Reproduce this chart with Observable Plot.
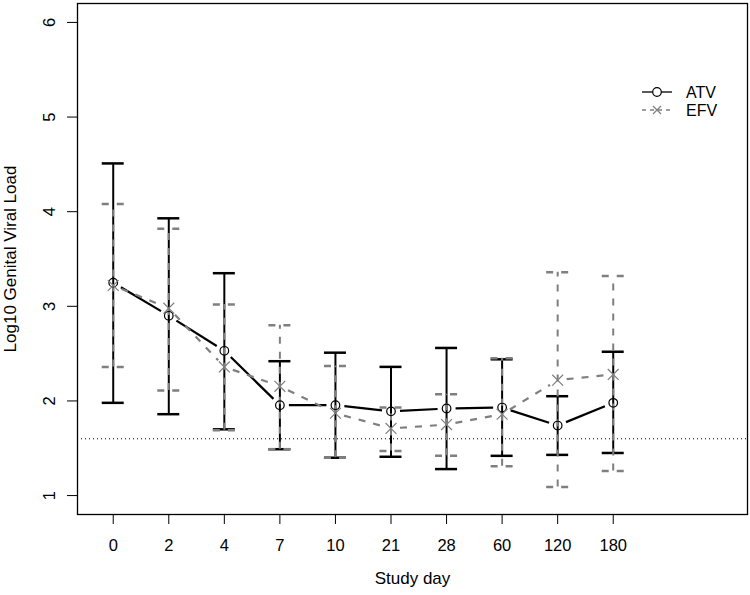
<!DOCTYPE html>
<html>
<head>
<meta charset="utf-8">
<script src="https://cdn.jsdelivr.net/npm/d3@7"></script>
<script src="https://cdn.jsdelivr.net/npm/@observablehq/plot@0.6"></script>
<style>
  html, body { margin: 0; padding: 0; background: #fff; }
  #wrap { position: relative; width: 750px; height: 595px; font-family: "Liberation Sans", Arial, sans-serif; }
  #legend { position: absolute; left: 0; top: 0; pointer-events: none; }
</style>
</head>
<body>
<div id="wrap"></div>
<script>
// ---- data ----
const days      = ["0", "2", "4", "7", "10", "21", "28", "60", "120", "180"];
const atvMean   = [3.25, 2.90, 2.53, 1.955, 1.955, 1.89, 1.92, 1.93, 1.74, 1.98];
const atvLower  = [1.98, 1.86, 1.70, 1.49, 1.40, 1.41, 1.28, 1.42, 1.43, 1.45];
const atvUpper  = [4.51, 3.93, 3.35, 2.42, 2.51, 2.36, 2.56, 2.44, 2.05, 2.52];
const efvMean   = [3.22, 2.98, 2.36, 2.155, 1.87, 1.71, 1.75, 1.86, 2.22, 2.28];
const efvLower  = [2.36, 2.11, 1.69, 1.49, 1.40, 1.47, 1.42, 1.31, 1.09, 1.26];
const efvUpper  = [4.08, 3.82, 3.02, 2.80, 2.37, 1.93, 2.07, 2.45, 3.36, 3.32];
const detectionLimit = 1.60;
const yTicks = [1, 2, 3, 4, 5, 6];
const seriesNames = ["ATV", "EFV"];

// ---- build tables ----
const rows = days.map((d, i) => ({
  idx: i + 1, day: d,
  atv: atvMean[i], atvLo: atvLower[i], atvHi: atvUpper[i],
  efv: efvMean[i], efvLo: efvLower[i], efvHi: efvUpper[i]
}));
const segs = rows.slice(1).map((r, k) => ({a: rows[k], b: r}));

const GRAY = "#7f7f7f";
const DASH = "7,8";
const CAP = -11;

const chart = Plot.plot({
  width: 750,
  height: 595,
  marginLeft: 77,
  marginRight: 3,
  marginTop: 3,
  marginBottom: 81,
  style: {fontFamily: "'Liberation Sans', Arial, sans-serif", fontSize: "16.5px", background: "#fff", color: "#000"},
  x: {type: "linear", domain: [0.357, 12.417], axis: null},
  y: {domain: [0.8, 6.2], axis: null},
  marks: [
    // detection limit
    Plot.ruleY([detectionLimit], {stroke: "#000", strokeWidth: 1, strokeDasharray: "1,3"}),

    // ATV error bars
    Plot.ruleX(rows, {x: "idx", y1: "atvLo", y2: "atvHi", stroke: "#000", strokeWidth: 2}),
    Plot.ruleY(rows, {y: "atvHi", x1: "idx", x2: "idx", insetLeft: CAP, insetRight: CAP, stroke: "#000", strokeWidth: 2.5}),
    Plot.ruleY(rows, {y: "atvLo", x1: "idx", x2: "idx", insetLeft: CAP, insetRight: CAP, stroke: "#000", strokeWidth: 2.5}),

    // EFV error bars (dashed gray)
    Plot.ruleX(rows, {x: "idx", y1: "efvLo", y2: "efvHi", stroke: GRAY, strokeWidth: 2, strokeDasharray: DASH}),
    Plot.ruleY(rows, {y: "efvHi", x1: "idx", x2: "idx", insetLeft: CAP, insetRight: CAP, stroke: GRAY, strokeWidth: 2.5, strokeDasharray: DASH}),
    Plot.ruleY(rows, {y: "efvLo", x1: "idx", x2: "idx", insetLeft: CAP, insetRight: CAP, stroke: GRAY, strokeWidth: 2.5, strokeDasharray: DASH}),

    // ATV line (type "b": gaps around points)
    Plot.arrow(segs, {x1: s => s.a.idx, y1: s => s.a.atv, x2: s => s.b.idx, y2: s => s.b.atv,
      headLength: 0, insetStart: 9, insetEnd: 9, stroke: "#000", strokeWidth: 2.2, strokeLinecap: "butt"}),
    Plot.dot(rows, {x: "idx", y: "atv", r: 4.3, stroke: "#000", strokeWidth: 1.2, fill: "none"}),

    // EFV line
    Plot.arrow(segs, {x1: s => s.a.idx, y1: s => s.a.efv, x2: s => s.b.idx, y2: s => s.b.efv,
      headLength: 0, insetStart: 9, insetEnd: 9, stroke: GRAY, strokeWidth: 2.2, strokeDasharray: DASH, strokeLinecap: "butt"}),
    Plot.dot(rows, {x: "idx", y: "efv", r: 5, symbol: "times", stroke: GRAY, strokeWidth: 1.2}),

    // axes
    Plot.axisX({ticks: rows.map(r => r.idx), tickSize: 10, tickPadding: 15, tickFormat: i => days[i - 1], label: null, stroke: "#000"}),
    Plot.axisY({ticks: yTicks, tickSize: 10, tickFormat: () => "", label: null}),
    Plot.text(yTicks, {y: d => d, text: d => String(d), frameAnchor: "left", textAnchor: "middle", dx: -28, rotate: -90, fill: "#000"}),
    Plot.text(["Study day"], {text: d => d, frameAnchor: "bottom", textAnchor: "middle", dy: 69, fontSize: 17, fill: "#000"}),
    Plot.text(["Log10 Genital Viral Load"], {text: d => d, frameAnchor: "left", textAnchor: "middle", dx: -67, rotate: -90, fontSize: 17, fill: "#000"}),

    Plot.frame({stroke: "#000", strokeWidth: 1.3})
  ]
});

const wrap = document.getElementById("wrap");
wrap.appendChild(chart);

// ---- legend (top right, inside the box) ----
const ns = "http://www.w3.org/2000/svg";
const leg = document.createElementNS(ns, "svg");
leg.setAttribute("id", "legend");
leg.setAttribute("width", 750);
leg.setAttribute("height", 595);
const legendItems = [
  {name: seriesNames[0], stroke: "#000", dash: null, sym: "circle", y: 92},
  {name: seriesNames[1], stroke: GRAY, dash: "4,4", sym: "times", y: 110}
];
for (const it of legendItems) {
  const ln = document.createElementNS(ns, "line");
  ln.setAttribute("x1", 642); ln.setAttribute("x2", 672);
  ln.setAttribute("y1", it.y); ln.setAttribute("y2", it.y);
  ln.setAttribute("stroke", it.stroke); ln.setAttribute("stroke-width", 1.3);
  if (it.dash) ln.setAttribute("stroke-dasharray", it.dash);
  leg.appendChild(ln);
  if (it.sym === "circle") {
    const c = document.createElementNS(ns, "circle");
    c.setAttribute("cx", 657); c.setAttribute("cy", it.y); c.setAttribute("r", 4.3);
    c.setAttribute("fill", "#fff"); c.setAttribute("stroke", it.stroke); c.setAttribute("stroke-width", 1.2);
    leg.appendChild(c);
  } else {
    const p = document.createElementNS(ns, "path");
    p.setAttribute("d", `M653,${it.y - 4}L661,${it.y + 4}M653,${it.y + 4}L661,${it.y - 4}`);
    p.setAttribute("stroke", it.stroke); p.setAttribute("stroke-width", 1.2); p.setAttribute("fill", "none");
    leg.appendChild(p);
  }
  const t = document.createElementNS(ns, "text");
  t.setAttribute("x", 686); t.setAttribute("y", it.y);
  t.setAttribute("dy", "0.35em");
  t.setAttribute("font-size", "16px");
  t.setAttribute("font-family", "'Liberation Sans', Arial, sans-serif");
  t.setAttribute("fill", "#000");
  t.textContent = it.name;
  leg.appendChild(t);
}
wrap.appendChild(leg);
</script>
</body>
</html>
